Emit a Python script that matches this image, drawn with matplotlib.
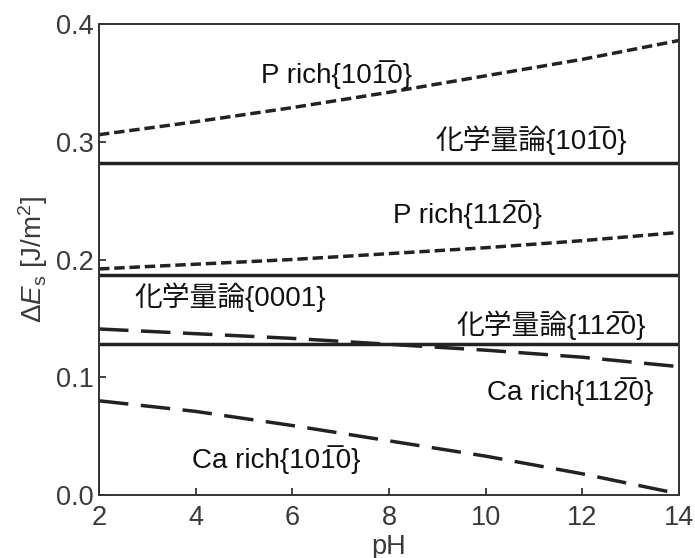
import matplotlib
matplotlib.use("Agg")
import matplotlib.pyplot as plt

plt.rcParams['font.family'] = ['Liberation Sans', 'Noto Sans CJK JP', 'DejaVu Sans']
plt.rcParams['mathtext.fontset'] = 'custom'
plt.rcParams['mathtext.rm'] = 'Liberation Sans'
plt.rcParams['mathtext.it'] = 'Liberation Sans:italic'
plt.rcParams['mathtext.bf'] = 'Liberation Sans:bold'

ph = [2, 4, 6, 8, 10, 12, 14]
p_rich_1010 = [0.306, 0.317, 0.329, 0.342, 0.356, 0.370, 0.386]
p_rich_1120 = [0.192, 0.196, 0.200, 0.205, 0.210, 0.216, 0.223]
ca_rich_1120 = [0.141, 0.137, 0.133, 0.128, 0.123, 0.117, 0.109]
ca_rich_1010 = [0.080, 0.071, 0.059, 0.046, 0.033, 0.018, 0.001]
stoich_1010 = 0.282
stoich_0001 = 0.187
stoich_1120 = 0.128

xticks = [2, 4, 6, 8, 10, 12, 14]
yticks = [0.0, 0.1, 0.2, 0.3, 0.4]

OL = '\u0305'
labels = {
    'p1010': 'P rich{101' + OL + '0}',
    's1010': '化学量論{101' + OL + '0}',
    'p1120': 'P rich{112' + OL + '0}',
    's0001': '化学量論{0001}',
    's1120': '化学量論{112' + OL + '0}',
    'c1120': 'Ca rich{112' + OL + '0}',
    'c1010': 'Ca rich{101' + OL + '0}',
}

fig = plt.figure(figsize=(6.95, 5.58), dpi=100)
ax = fig.add_axes([99/695, 1-495/558, 580/695, 471/558])

lw = 2.5
short = (0, (3.0, 1.4))
long_ = (0, (8.5, 3.6))
ax.plot(ph, p_rich_1010, color='#222222', lw=lw, linestyle=short)
ax.plot(ph, p_rich_1120, color='#222222', lw=lw, linestyle=short)
ax.plot(ph, ca_rich_1120, color='#222222', lw=lw, linestyle=long_)
ax.plot(ph, ca_rich_1010, color='#222222', lw=lw, linestyle=long_)
for v in (stoich_1010, stoich_0001, stoich_1120):
    ax.axhline(v, color='#222222', lw=lw)

fs = 20
tc = '#111111'
ax.text(6.92, 0.357, labels['p1010'], fontsize=fs, ha='center', va='center', color=tc)
ax.text(10.94, 0.301, labels['s1010'], fontsize=fs, ha='center', va='center', color=tc)
ax.text(9.62, 0.238, labels['p1120'], fontsize=fs, ha='center', va='center', color=tc)
ax.text(4.71, 0.168, labels['s0001'], fontsize=fs, ha='center', va='center', color=tc)
ax.text(11.35, 0.144, labels['s1120'], fontsize=fs, ha='center', va='center', color=tc)
ax.text(11.74, 0.0875, labels['c1120'], fontsize=fs, ha='center', va='center', color=tc)
ax.text(5.66, 0.0297, labels['c1010'], fontsize=fs, ha='center', va='center', color=tc)

ax.set_xlim(2, 14)
ax.set_ylim(0, 0.4)
ax.set_xticks(xticks)
ax.set_xticklabels([str(t) for t in xticks])
ax.set_yticks(yticks)
ax.set_yticklabels([f'{t:.1f}' for t in yticks])
ax.tick_params(direction='in', length=5, width=1.3, colors='#333333',
               labelsize=19.5, labelcolor='#3a3a3a')
ax.tick_params(axis='x', pad=7)
ax.tick_params(axis='y', pad=4)
for s in ax.spines.values():
    s.set_linewidth(1.4)
    s.set_color('#333333')

ax.set_xlabel('pH', fontsize=19.5, color='#3a3a3a', labelpad=2)
ax.set_ylabel(r'Δ$E_{\mathrm{s}}$ [J/m$^2$]', fontsize=20, color='#3a3a3a', labelpad=4)

fig.savefig('out.png', dpi=100)
